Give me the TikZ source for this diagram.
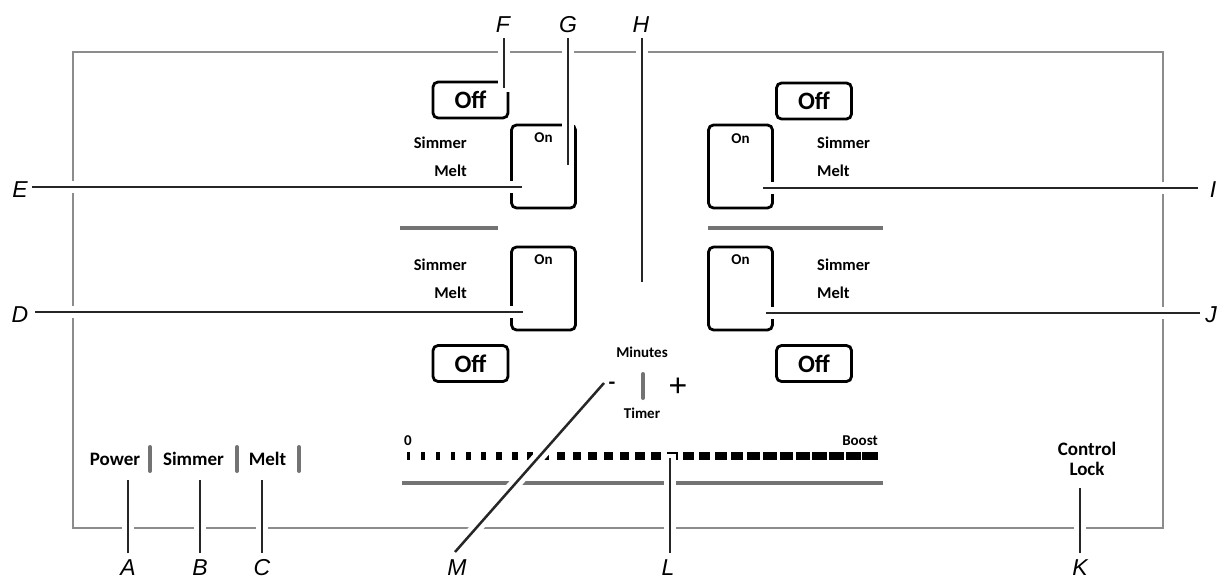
\documentclass[tikz,border=0pt]{standalone}
\usepackage{fontspec}
\setmainfont{Carlito}
\newfontfamily\letterfont{Liberation Sans}
\newcommand\fOff{\fontsize{25}{25}\selectfont\bfseries}
\newcommand\fMid{\fontsize{16.5}{17}\selectfont\bfseries}
\newcommand\fSmall{\fontsize{15}{15}\selectfont\bfseries}
\newcommand\fBig{\fontsize{19}{20}\selectfont\bfseries}
\newcommand\fLet{\letterfont\itshape\fontsize{23}{23}\selectfont}
\begin{document}
\begin{tikzpicture}[x=1pt,y=-1pt,
  frame/.style={draw=black!45, line width=1.2pt},
  offbox/.style={draw=black, line width=2.8pt, rounded corners=5pt, minimum width=75pt, minimum height=36pt, inner sep=0pt, font=\fOff},
  onbox/.style={draw=black, line width=2.8pt, rounded corners=5pt, minimum width=64pt, minimum height=83pt, inner sep=0pt},
  sep/.style={draw=black!55, line width=3.6pt},
  gbar/.style={draw=black!55, line width=4pt, line cap=round},
  leader/.style={draw=black!85, line width=2.5pt, preaction={draw=white, line width=12pt, shorten >=-4pt}},
  lbl/.style={font=\fLet, anchor=base, inner sep=0pt},
  txt/.style={font=\fMid, inner sep=0pt},
]
\useasboundingbox (0,0) rectangle (1220,578);
\fill[white] (0,0) rectangle (1220,578);

% frame
\draw[frame] (73,52) rectangle (1163,528);

% Off buttons
\node[offbox] (offTL) at (470.5,100) {Off};
\node[offbox] (offTR) at (814,101) {Off};
\node[offbox] (offBL) at (470.5,363.5) {Off};
\node[offbox] (offBR) at (814,363.5) {Off};

% On buttons
\node[onbox] (onTL) at (543.5,166.5) {};
\node[onbox] (onTR) at (740.5,166.5) {};
\node[onbox] (onBL) at (543.5,288.5) {};
\node[onbox] (onBR) at (740.5,288.5) {};

% separators
\draw[sep] (400,228) -- (498,228);
\draw[sep] (708,228) -- (883,228);
\draw[sep] (402,483) -- (883,483);

% small bars
\draw[gbar] (150,447) -- (150,471);
\draw[gbar] (237,447) -- (237,471);
\draw[gbar] (299,447) -- (299,471);
\draw[gbar] (643,374) -- (643,398);

% power level bar graph
\foreach \i in {0,...,29} {
  \pgfmathsetmacro\c{408+15*\i+\i*\i/31}
  \pgfmathsetmacro\w{3+13*\i/29}
  \fill[black] (\c-\w/2,452) rectangle (\c+\w/2,460);
}

% leader coordinates
\coordinate (F1) at (504,38);  \coordinate (F2) at (504,88);
\coordinate (G1) at (568,38);  \coordinate (G2) at (568,165);
\coordinate (H1) at (642,38);  \coordinate (H2) at (642,282);
\coordinate (E1) at (32,187);  \coordinate (E2) at (522,187);
\coordinate (D1) at (35,312);  \coordinate (D2) at (523,312);
\coordinate (I1) at (1198,188); \coordinate (I2) at (763,188);
\coordinate (J1) at (1200,313); \coordinate (J2) at (766,313);
\coordinate (A1) at (128,553); \coordinate (A2) at (128,480);
\coordinate (B1) at (200,553); \coordinate (B2) at (200,480);
\coordinate (C1) at (262,553); \coordinate (C2) at (262,480);
\coordinate (M1) at (455,552); \coordinate (M2) at (604,383);
\coordinate (L1) at (670,553); \coordinate (L2) at (670,458);
\coordinate (K1) at (1080,553); \coordinate (K2) at (1080,488);

\foreach \p in {F,G,H,E,D,I,J,A,B,C,M,L,K}
  \draw[leader] (\p1) -- (\p2);

% texts on buttons
\node[font=\fSmall, anchor=base, inner sep=0pt] (onTLt) at (543.5,142) {On};
\node[font=\fSmall, anchor=base, inner sep=0pt] (onTRt) at (740.5,143) {On};
\node[font=\fSmall, anchor=base, inner sep=0pt] (onBLt) at (543.5,264) {On};
\node[font=\fSmall, anchor=base, inner sep=0pt] (onBRt) at (740.5,264) {On};

\node[txt, anchor=base east] (sTL) at (467,148) {Simmer};
\node[txt, anchor=base east] (mTL) at (467,176) {Melt};
\node[txt, anchor=base east] (sBL) at (467,270) {Simmer};
\node[txt, anchor=base east] (mBL) at (467,298) {Melt};
\node[txt, anchor=base west] (sTR) at (817,148) {Simmer};
\node[txt, anchor=base west] (mTR) at (817,176) {Melt};
\node[txt, anchor=base west] (sBR) at (817,270) {Simmer};
\node[txt, anchor=base west] (mBR) at (817,298) {Melt};

% timer
\node[font=\fSmall, anchor=base, inner sep=0pt] (minutes) at (642,357) {Minutes};
\node[font=\fSmall, anchor=base, inner sep=0pt] (timer) at (642,418) {Timer};
\node[font=\fontsize{22}{22}\selectfont\bfseries, inner sep=0pt] (minus) at (612,385.5) {-};
\node[font=\letterfont\fontsize{32}{32}\selectfont, inner sep=0pt] (plus) at (678,387) {+};

% bar graph labels
\node[font=\fSmall, anchor=base, inner sep=0pt] (zero) at (408,445) {0};
\node[font=\fSmall, anchor=base east, inner sep=0pt] (boost) at (878,445) {Boost};

% bottom left
\node[font=\fBig, anchor=base, inner sep=0pt] (power) at (115,465) {Power};
\node[font=\fBig, anchor=base, inner sep=0pt] (simmer) at (193.5,465) {Simmer};
\node[font=\fBig, anchor=base, inner sep=0pt] (melt) at (267.5,465) {Melt};

% control lock
\node[font=\fBig, anchor=base, inner sep=0pt] (control) at (1087,455) {Control};
\node[font=\fBig, anchor=base, inner sep=0pt] (lock) at (1087,475) {Lock};

% letter labels
\node[lbl] (F) at (503,33) {F};
\node[lbl] (G) at (568,33) {G};
\node[lbl] (H) at (641,33) {H};
\node[lbl] (E) at (20,197) {E};
\node[lbl] (D) at (20,322) {D};
\node[lbl] (I) at (1213,197) {I};
\node[lbl] (J) at (1211,322) {J};
\node[lbl] (A) at (128,575) {A};
\node[lbl] (B) at (200,575) {B};
\node[lbl] (C) at (262,575) {C};
\node[lbl] (M) at (457,575) {M};
\node[lbl] (L) at (668,575) {L};
\node[lbl] (K) at (1080,575) {K};
\end{tikzpicture}
\end{document}
